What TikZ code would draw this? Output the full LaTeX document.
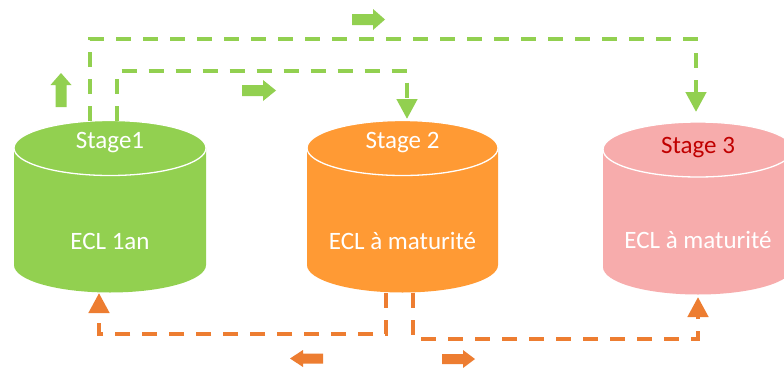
\documentclass[tikz,border=0pt]{standalone}
\usepackage{fontspec}
\setmainfont{Carlito}
\usetikzlibrary{arrows.meta}
\definecolor{cgreen}{RGB}{146,208,80}
\definecolor{corange}{RGB}{255,154,52}
\definecolor{cdorange}{RGB}{237,125,49}
\definecolor{cpink}{RGB}{247,172,172}
\definecolor{cred}{RGB}{192,0,0}
% #1 cx, #2 top centre y, #3 bottom centre y, #4 rx, #5 ry, #6 colour
\newcommand\drawcyl[6]{%
  \fill[#6] (#1-#4,#2) -- (#1-#4,#3) arc[start angle=180,end angle=0,x radius=#4,y radius=#5] -- (#1+#4,#2) -- cycle;
  \filldraw[fill=#6,draw=white,line width=1.3pt] (#1,#2) ellipse[x radius=#4,y radius=#5];
}
\begin{document}
\begin{tikzpicture}[x=1pt,y=-1pt,
  flow/.style={line width=4.5pt, dash pattern=on 15pt off 12pt, line join=miter,
    -{Triangle[width=20pt,length=20pt]}},
  lbl/.style={font=\fontsize{25}{30}\selectfont, text=white, anchor=base, inner sep=0pt},
  blockg/.style={fill=cgreen},
  blocko/.style={fill=cdorange}]
\useasboundingbox (0,0) rectangle (784,367);
\clip (0,0) rectangle (784,367);
\fill[white] (0,0) rectangle (784,367);

% cylinders
\drawcyl{110}{148}{265}{96}{27.5}{cgreen}
\drawcyl{402.5}{148}{265}{95.5}{27.5}{corange}
\drawcyl{698}{149.5}{267}{95}{27.5}{cpink}

% labels
\node[lbl] (s1) at (110,148) {Stage1};
\node[lbl] (s2) at (402.5,148) {Stage 2};
\node[lbl,text=cred] (s3) at (698,153) {Stage 3};
\node[lbl] (e1) at (110,249) {ECL 1an};
\node[lbl] (e2) at (402.5,249) {ECL à maturité};
\node[lbl] (e3) at (698,248) {ECL à maturité};

% connector ends
\coordinate (a1) at (90,121);
\coordinate (a2) at (696,112);
\coordinate (b1) at (117,120.5);
\coordinate (b2) at (407,119);
\coordinate (c1) at (386,293);
\coordinate (c2) at (99,293);
\coordinate (d1) at (413,293);
\coordinate (d2) at (698,297);

% green flows
\draw[flow,cgreen] (a1) -- ++(0,-82) -| (a2);
\draw[flow,cgreen] (b1) -- ++(0,-49.5) -| (b2);
% orange flows
\draw[flow,cdorange] (c1) -- ++(0,41) -| (c2);
\draw[flow,cdorange] (d1) -- ++(0,46) -| (d2);

% block arrows (green)
\fill[blockg] (55.5,107) -- (55.5,85) -- (50.5,85) -- (61,73) -- (71.5,85) -- (66.5,85) -- (66.5,107) -- cycle;
\fill[blockg] (242,85) -- (263,85) -- (263,80) -- (276,90.5) -- (263,101) -- (263,96) -- (242,96) -- cycle;
\fill[blockg] (352,14) -- (373,14) -- (373,9) -- (385,19.5) -- (373,30) -- (373,25) -- (352,25) -- cycle;
% block arrows (orange)
\fill[blocko] (323,353.5) -- (303,353.5) -- (303,350) -- (290,358.5) -- (303,367) -- (303,363.5) -- (323,363.5) -- cycle;
\fill[blocko] (442,354) -- (463,354) -- (463,350) -- (475,359) -- (463,368) -- (463,364) -- (442,364) -- cycle;
\end{tikzpicture}
\end{document}
